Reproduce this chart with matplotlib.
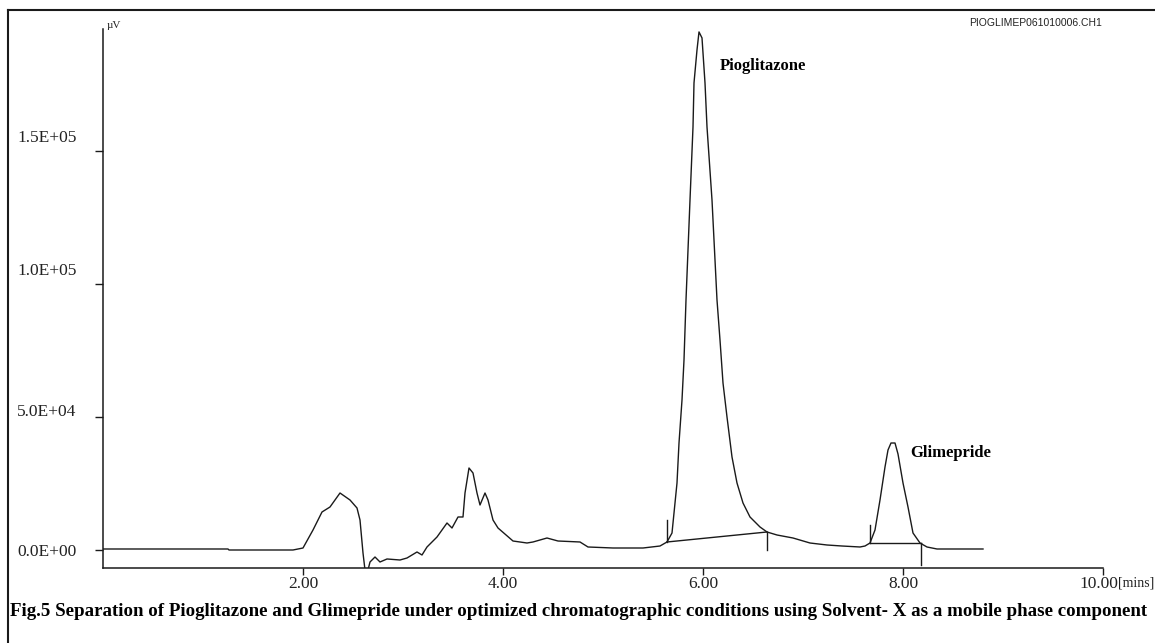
import matplotlib
matplotlib.use("Agg")
import matplotlib.pyplot as plt
import matplotlib.transforms as mtransforms
from matplotlib.lines import Line2D

# chromatogram trace: time [min], signal [uV]
time_min = [0.00, 1.25, 1.26, 1.90, 2.00, 2.10, 2.19, 2.27, 2.37, 2.47, 2.54, 2.57,
            2.60, 2.62, 2.65, 2.67, 2.72, 2.77, 2.84, 2.97, 3.04, 3.14, 3.19, 3.24,
            3.34, 3.44, 3.49, 3.55, 3.60, 3.62, 3.66, 3.70, 3.74, 3.77, 3.82, 3.85,
            3.90, 3.95, 4.10, 4.24, 4.30, 4.44, 4.55, 4.77, 4.85, 5.10, 5.40, 5.57,
            5.64, 5.69, 5.74, 5.76, 5.79, 5.81, 5.83, 5.87, 5.90, 5.91, 5.94, 5.96,
            5.99, 6.02, 6.04, 6.09, 6.14, 6.17, 6.20, 6.24, 6.29, 6.34, 6.40, 6.47,
            6.57, 6.64, 6.74, 6.90, 7.07, 7.24, 7.39, 7.57, 7.62, 7.67, 7.72, 7.77,
            7.82, 7.85, 7.88, 7.92, 7.95, 8.00, 8.05, 8.10, 8.17, 8.24, 8.34, 8.80]
signal_uv = [376, 376, 0, 0, 752, 7520, 14290, 16170, 21430, 18800, 15790, 11280,
             -1128, -7520, -7520, -4510, -2630, -4510, -3380, -3760, -3010, -750, -1880, 1130,
             4890, 10150, 8270, 12410, 12410, 21430, 30830, 28950, 21430, 16920, 21430, 18800,
             11280, 8270, 3380, 2630, 3010, 4510, 3380, 3010, 1130, 750, 750, 1500,
             3010, 6390, 25190, 40230, 56400, 71440, 94000, 131600, 159070, 175620, 188030, 194800,
             192540, 175620, 159070, 131600, 94000, 78960, 62790, 50010, 34970, 25190, 17670, 12410,
             8650, 6770, 5640, 4510, 2630, 1880, 1500, 1130, 1500, 2630, 7520, 18800,
             31210, 37600, 40230, 40230, 36100, 25190, 16170, 6390, 2630, 1130, 376, 376]

# integration baselines of the two named peaks
peak_names = ["Pioglitazone", "Glimepride"]
peak_start_t = [5.64, 7.67]
peak_start_y = [3010, 2630]
peak_end_t = [6.64, 8.18]
peak_end_y = [6770, 2630]
start_mark_top = [11280, 9400]
end_mark_bottom = [0, -5640]
label_t = [6.17, 8.07]
label_y = [182000, 36600]

xticks = [2, 4, 6, 8, 10]
xtick_labels = ["2.00", "4.00", "6.00", "8.00", "10.00"]
yticks = [0, 50000, 100000, 150000]
ytick_labels = ["0.0E+00", "5.0E+04", "1.0E+05", "1.5E+05"]
ylabel_shift = [0, 7, 15, 15]   # pixels the value labels sit above their ticks

caption = ("Fig.5 Separation of Pioglitazone and Glimepride under optimized "
           "chromatographic conditions using Solvent- X as a mobile phase component")

W, H = 1155, 643
fig = plt.figure(figsize=(W / 100, H / 100), dpi=100)
ax = fig.add_axes([103 / W, 1 - 568 / H, 1000 / W, (568 - 29) / H])

ink = "#1a1a1a"
ax.plot(time_min, signal_uv, color=ink, lw=1.0)

for i in range(len(peak_names)):
    ax.plot([peak_start_t[i], peak_end_t[i]], [peak_start_y[i], peak_end_y[i]], color=ink, lw=1.0)
    ax.plot([peak_start_t[i], peak_start_t[i]], [peak_start_y[i], start_mark_top[i]], color=ink, lw=1.0)
    ax.plot([peak_end_t[i], peak_end_t[i]], [peak_end_y[i], end_mark_bottom[i]], color=ink, lw=1.0)
    ax.text(label_t[i], label_y[i], peak_names[i], family="Liberation Serif",
            fontweight="bold", fontsize=12, color="black", va="center", ha="left")

ax.set_xlim(0, 10)
ax.set_ylim(-6770, 195900)
for s in ["top", "right"]:
    ax.spines[s].set_visible(False)
for s in ["left", "bottom"]:
    ax.spines[s].set_color(ink)
    ax.spines[s].set_linewidth(1.1)

ax.set_xticks(xticks)
ax.set_xticklabels(xtick_labels, family="Liberation Serif", fontsize=12.5, color="#222222")
ax.set_yticks(yticks)
ax.set_yticklabels(ytick_labels, family="Liberation Serif", fontsize=12.5, color="#222222")
ax.tick_params(axis="x", direction="out", length=5, width=1, color=ink, pad=1)
ax.tick_params(axis="y", direction="out", length=6, width=1, color=ink, pad=13)
for lab, dy in zip(ax.get_yticklabels(), ylabel_shift):
    lab.set_transform(lab.get_transform() + mtransforms.ScaledTranslation(0, dy / 100, fig.dpi_scale_trans))
last = ax.get_xticklabels()[-1]
last.set_transform(last.get_transform() + mtransforms.ScaledTranslation(-4 / 100, 0, fig.dpi_scale_trans))

fig.text(1154 / W, 1 - 583 / H, "[mins]", family="Liberation Serif", fontsize=10,
         color="#222222", ha="right", va="center")
ax.annotate("\u00b5V", xy=(0, 1), xycoords="axes fraction", xytext=(4, 4),
            textcoords="offset pixels", family="Liberation Serif", fontsize=8,
            color="#222222", ha="left", va="center")

fig.text(1102 / W, 1 - 23 / H, "PIOGLIMEP061010006.CH1", family="Liberation Sans",
         fontsize=7.5, color="#222222", ha="right", va="center")

# outer frame: top and left edges only
fig.add_artist(Line2D([8 / W, 1], [1 - 10 / H, 1 - 10 / H], transform=fig.transFigure, color=ink, lw=1.5))
fig.add_artist(Line2D([8 / W, 8 / W], [0, 1 - 10 / H], transform=fig.transFigure, color=ink, lw=1.5))

cap = fig.text(10 / W, 1 - 612 / H, caption, family="Liberation Serif", fontweight="bold",
               fontsize=15, color="black", ha="left", va="center")
fig.canvas.draw()
w = cap.get_window_extent().width
cap.set_fontsize(15 * 1140 / w)

fig.savefig("out.png", dpi=100)
